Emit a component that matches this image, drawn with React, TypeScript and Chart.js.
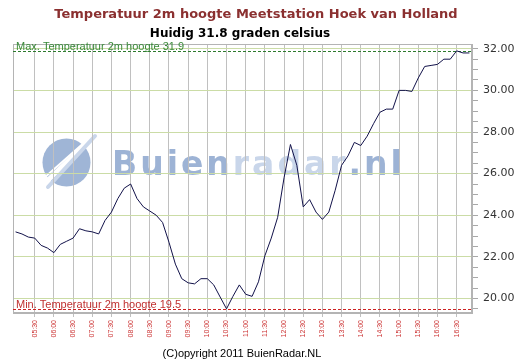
import React, { useEffect, useRef } from 'react';
import { Chart, registerables } from 'chart.js';
Chart.register(...registerables);

const TIMES = [
  '05:00','05:10','05:20','05:30','05:40','05:50',
  '06:00','06:10','06:20','06:30','06:40','06:50',
  '07:00','07:10','07:20','07:30','07:40','07:50',
  '08:00','08:10','08:20','08:30','08:40','08:50',
  '09:00','09:10','09:20','09:30','09:40','09:50',
  '10:00','10:10','10:20','10:30','10:40','10:50',
  '11:00','11:10','11:20','11:30','11:40','11:50',
  '12:00','12:10','12:20','12:30','12:40','12:50',
  '13:00','13:10','13:20','13:30','13:40','13:50',
  '14:00','14:10','14:20','14:30','14:40','14:50',
  '15:00','15:10','15:20','15:30','15:40','15:50',
  '16:00','16:10','16:20','16:30','16:40','16:50',
];

const TEMPS = [
  23.2, 23.1, 22.95, 22.9, 22.55, 22.42,
  22.2, 22.6, 22.75, 22.9, 23.35, 23.25,
  23.2, 23.1, 23.75, 24.15, 24.8, 25.3,
  25.5, 24.8, 24.4, 24.2, 24.0, 23.65,
  22.7, 21.65, 20.95, 20.75, 20.7, 20.95,
  20.95, 20.65, 20.07, 19.5, 20.1, 20.65,
  20.2, 20.1, 20.8, 22.05, 22.9, 23.9,
  25.8, 27.4, 26.4, 24.4, 24.75, 24.15,
  23.8, 24.15, 25.2, 26.4, 26.85, 27.5,
  27.35, 27.8, 28.4, 28.95, 29.1, 29.1,
  30.0, 30.0, 29.95, 30.6, 31.15, 31.2,
  31.25, 31.5, 31.5, 31.9, 31.8, 31.8,
];

const X_TICK_LABELS = [
  '05:30','06:00','06:30','07:00','07:30','08:00','08:30','09:00','09:30','10:00',
  '10:30','11:00','11:30','12:00','12:30','13:00','13:30','14:00','14:30','15:00',
  '15:30','16:00','16:30',
];

const Y_TICKS = [
  19.5, 20, 20.5, 21, 21.5, 22, 22.5, 23, 23.5, 24, 24.5, 25, 25.5, 26, 26.5,
  27, 27.5, 28, 28.5, 29, 29.5, 30, 30.5, 31, 31.5, 32,
];

const MAX_TEMP = 31.9;
const MIN_TEMP = 19.5;
const CURRENT = 31.8;

const TITLE = 'Temperatuur 2m hoogte Meetstation Hoek van Holland';
const SUBTITLE = `Huidig ${CURRENT} graden celsius`;
const MAX_LABEL = `Max. Temperatuur 2m hoogte ${MAX_TEMP}`;
const MIN_LABEL = `Min. Temperatuur 2m hoogte ${MIN_TEMP}`;
const COPYRIGHT = '(C)opyright 2011 BuienRadar.NL';

const toMin = (s: string) => {
  const [h, m] = s.split(':').map(Number);
  return h * 60 + m;
};

const isMajor = (v: number) => Math.abs(v / 2 - Math.round(v / 2)) < 1e-6;

const overlay = {
  id: 'overlay',
  beforeDraw(chart: any) {
    const { ctx, width, height } = chart;
    ctx.save();
    ctx.fillStyle = '#ffffff';
    ctx.fillRect(0, 0, width, height);
    // watermark logo
    ctx.fillStyle = '#9fb5d6';
    ctx.beginPath();
    ctx.arc(66.5, 162.5, 24, 0, Math.PI * 2);
    ctx.fill();
    ctx.strokeStyle = '#ffffff';
    ctx.lineCap = 'round';
    ctx.lineWidth = 5;
    ctx.beginPath();
    ctx.moveTo(46, 182);
    ctx.lineTo(90, 140);
    ctx.stroke();
    ctx.strokeStyle = '#c9d6ea';
    ctx.lineWidth = 4;
    ctx.beginPath();
    ctx.moveTo(48, 187);
    ctx.lineTo(95, 136);
    ctx.stroke();
    ctx.strokeStyle = '#ffffff';
    ctx.lineWidth = 2;
    ctx.beginPath();
    ctx.moveTo(44, 178);
    ctx.lineTo(86, 141);
    ctx.stroke();
    // watermark text
    ctx.font = 'bold 33px "DejaVu Sans"';
    (ctx as any).letterSpacing = '3px';
    ctx.textBaseline = 'alphabetic';
    ctx.textAlign = 'left';
    let x = 112;
    const base = 175;
    const parts: [string, string][] = [['Buien', '#9db3d5'], ['radar', '#c9d6ea'], ['.nl', '#9db3d5']];
    for (const [t, c] of parts) {
      ctx.fillStyle = c;
      ctx.fillText(t, x, base);
      x += ctx.measureText(t).width;
    }
    (ctx as any).letterSpacing = '0px';
    ctx.restore();
  },
  beforeDatasetsDraw(chart: any) {
    const { ctx, chartArea: a, scales } = chart;
    const y = scales.y;
    ctx.save();
    ctx.strokeStyle = '#b4b4b4';
    ctx.lineWidth = 1;
    ctx.strokeRect(a.left + 0.5, a.top + 0.5, a.right - a.left - 1, a.bottom - a.top - 1);
    ctx.setLineDash([3, 2]);
    const yMax = Math.round(y.getPixelForValue(MAX_TEMP)) + 0.5;
    ctx.strokeStyle = '#2d7a2d';
    ctx.beginPath();
    ctx.moveTo(a.left, yMax);
    ctx.lineTo(a.right, yMax);
    ctx.stroke();
    const yMin = Math.round(y.getPixelForValue(MIN_TEMP)) + 0.5;
    ctx.strokeStyle = '#cc2222';
    ctx.beginPath();
    ctx.moveTo(a.left, yMin);
    ctx.lineTo(a.right, yMin);
    ctx.stroke();
    ctx.setLineDash([]);
    ctx.font = '11px "Liberation Sans"';
    ctx.textAlign = 'left';
    ctx.textBaseline = 'alphabetic';
    ctx.fillStyle = '#3a8a3a';
    ctx.fillText(MAX_LABEL, a.left + 3, yMax - 1.5);
    ctx.fillStyle = '#c03030';
    ctx.fillText(MIN_LABEL, a.left + 3, yMin - 1.5);
    ctx.restore();
  },
  afterDraw(chart: any) {
    const { ctx } = chart;
    ctx.save();
    ctx.textAlign = 'center';
    ctx.textBaseline = 'alphabetic';
    ctx.font = 'bold 13px "DejaVu Sans"';
    ctx.fillStyle = '#8b3030';
    ctx.fillText(TITLE, 256, 18);
    ctx.font = 'bold 12px "DejaVu Sans"';
    ctx.fillStyle = '#000000';
    ctx.fillText(SUBTITLE, 240, 37);
    ctx.font = '11px "Liberation Sans"';
    ctx.fillStyle = '#000000';
    ctx.fillText(COPYRIGHT, 242, 357);
    ctx.restore();
  },
};

export default function App() {
  const ref = useRef<HTMLCanvasElement | null>(null);
  useEffect(() => {
    if (!ref.current) return;
    const chart = new Chart(ref.current, {
      type: 'line',
      data: {
        datasets: [
          {
            data: TIMES.map((t, i) => ({ x: toMin(t), y: TEMPS[i] })),
            borderColor: '#12124a',
            borderWidth: 1,
            pointRadius: 0,
            tension: 0,
            fill: false,
          },
        ],
      },
      options: {
        animation: false,
        responsive: true,
        maintainAspectRatio: false,
        layout: { padding: { left: 13, top: 44, right: 0, bottom: 0 } },
        plugins: {
          legend: { display: false },
          tooltip: { enabled: false },
          title: { display: false },
        },
        scales: {
          x: {
            type: 'linear',
            min: 296,
            max: 1014,
            afterBuildTicks: (scale: any) => {
              scale.ticks = X_TICK_LABELS.map((l) => ({ value: toMin(l) }));
            },
            afterFit: (scale: any) => {
              scale.height = 51;
            },
            grid: {
              color: '#c0c0c0',
              lineWidth: 1,
              drawTicks: true,
              tickLength: 4,
              tickColor: '#c0c0c0',
            },
            border: { display: true, color: '#b4b4b4' },
            ticks: {
              autoSkip: false,
              minRotation: 90,
              maxRotation: 90,
              padding: 3,
              color: '#cc3333',
              font: { family: '"Liberation Sans"', size: 7 },
              callback: (_v: any, i: number) => X_TICK_LABELS[i],
            },
          },
          y: {
            type: 'linear',
            position: 'right',
            min: 19.3,
            max: 32.23,
            afterBuildTicks: (scale: any) => {
              scale.ticks = Y_TICKS.map((v) => ({ value: v }));
            },
            afterFit: (scale: any) => {
              scale.width = 56;
            },
            grid: {
              color: (c: any) => (c.tick && isMajor(c.tick.value) ? '#cbdca6' : 'rgba(0,0,0,0)'),
              lineWidth: 1,
              drawTicks: true,
              tickLength: 6,
              tickColor: '#a8a8a8',
            },
            border: { display: true, color: '#b4b4b4' },
            ticks: {
              autoSkip: false,
              padding: 5,
              color: '#333333',
              font: { family: '"DejaVu Sans"', size: 11 },
              callback: (v: any) => (isMajor(Number(v)) ? Number(v).toFixed(2) : ''),
            },
          },
        },
      },
      plugins: [overlay],
    });
    return () => chart.destroy();
  }, []);
  return (
    <div style={{ position: 'absolute', left: 0, top: 0, width: 528, height: 364, background: '#fff' }}>
      <canvas ref={ref} />
    </div>
  );
}
